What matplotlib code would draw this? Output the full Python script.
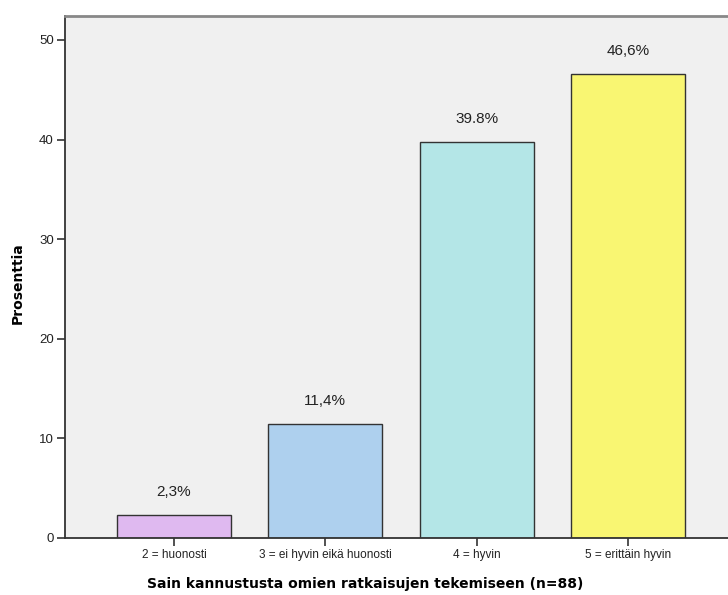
import numpy as np
import matplotlib.pyplot as plt

categories = ['2 = huonosti', '3 = ei hyvin eikä huonosti', '4 = hyvin', '5 = erittäin hyvin']
values = [2.3, 11.4, 39.8, 46.6]
value_labels = ['2,3%', '11,4%', '39.8%', '46,6%']
colors = ['#dfb9f0', '#aed0ee', '#b4e6e7', '#f9f672']

fig = plt.figure(figsize=(7.28, 5.95), dpi=100)
ax = fig.add_axes([65 / 728, 57 / 595, 672 / 728, 522 / 595])
ax.set_facecolor('#f0f0f0')

x = np.arange(len(categories))
ax.bar(x, values, width=0.755, color=colors, edgecolor='#333333', linewidth=1.0, zorder=2)
for xi, v, lab in zip(x, values, value_labels):
    ax.text(xi, v + 1.6, lab, ha='center', va='bottom', fontsize=11,
            family='Liberation Sans', color='#222222')

ax.set_xlim(-0.72, 3.72)
ax.set_ylim(0, 52.4)
ax.set_yticks([0, 10, 20, 30, 40, 50])
ax.set_xticks(x)
ax.set_xticklabels(categories, fontsize=8.5, family='Liberation Sans')
for t in ax.get_yticklabels():
    t.set_family('Liberation Sans')
    t.set_fontsize(9.5)
ax.tick_params(axis='both', length=6, width=1.2, color='#333333', labelcolor='#222222', pad=2)

ax.spines['right'].set_visible(False)
ax.spines['top'].set_color('#888888')
ax.spines['top'].set_linewidth(2)
ax.spines['left'].set_linewidth(1.3)
ax.spines['bottom'].set_linewidth(1.3)
ax.spines['left'].set_color('#333333')
ax.spines['bottom'].set_color('#333333')

fig.text(18 / 728, 1 - 283 / 595, 'Prosenttia', rotation=90, ha='center', va='center',
         fontsize=10, fontweight='bold', family='DejaVu Sans')
fig.text(365 / 728, 1 - 584 / 595, 'Sain kannustusta omien ratkaisujen tekemiseen (n=88)',
         ha='center', va='center', fontsize=10, fontweight='bold', family='DejaVu Sans')

fig.savefig('out.png', dpi=100)
